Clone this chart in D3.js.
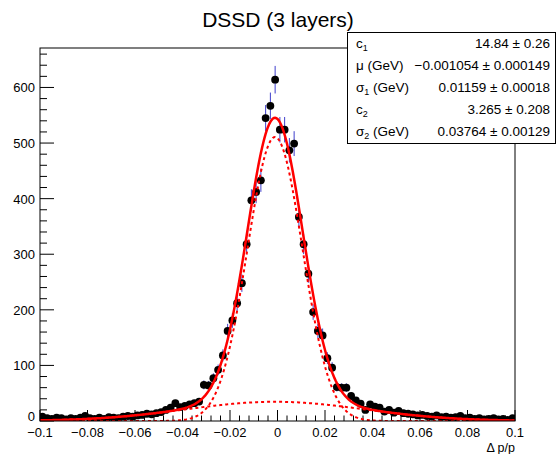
<!DOCTYPE html>
<html><head><meta charset="utf-8">
<script src="https://cdn.jsdelivr.net/npm/d3@7"></script>
<style>body{margin:0;background:#fff}text{font-family:"Liberation Sans",Arial,sans-serif}</style>
</head><body><svg id="c" width="558" height="454"></svg>
<script>
// ---- data ----
const binLow = -0.1, binWidth = 0.002;
const counts = [8,5,4,6,5,3,5,4,6,9, 5,4,6,4,7,6,5,8,9,8,
  10,11,13,12,14,16,20,24,32,25, 27,30,32,35,65,64,77,92,118,162,
  181,212,248,318,397,412,433,545,567,614, 524,524,487,499,367,318,265,196,162,154,
  113,96,61,60,60,45,37,31,20,30, 26,24,17,20,15,18,14,13,12,10,
  11,9,8,10,7,8,6,7,9,5, 6,4,5,3,4,5,3,4,2,5];
const xTicks = [-0.1,-0.08,-0.06,-0.04,-0.02,0,0.02,0.04,0.06,0.08,0.1];
const xTickLabels = ["\u22120.1","\u22120.08","\u22120.06","\u22120.04","\u22120.02","0","0.02","0.04","0.06","0.08","0.1"];
const yTicks = [0,100,200,300,400,500,600];
const statNames = [["c","1",""],["\u03bc (GeV)","",""],["\u03c3","1"," (GeV)"],["c","2",""],["\u03c3","2"," (GeV)"]];
const statValues = ["14.84 \u00b1 0.26","\u22120.001054 \u00b1 0.000149","0.01159 \u00b1 0.00018","3.265 \u00b1 0.208","0.03764 \u00b1 0.00129"];
const fitPar = {c1:14.84, mu:-0.001054, s1:0.01159, c2:3.265, s2:0.03764};

// ---- chart ----
const svg = d3.select("#c");
const L=40,R=515,T=48,B=421;
const x = d3.scaleLinear().domain([-0.1,0.1]).range([L,R]);
const y = d3.scaleLinear().domain([0,671]).range([B,T]);
svg.append("rect").attr("width",558).attr("height",454).attr("fill","#fff");
svg.append("defs").append("clipPath").attr("id","clip").append("rect")
  .attr("x",L).attr("y",T).attr("width",R-L).attr("height",B-T);

// ticks
const g = svg.append("g").attr("stroke","#000").attr("stroke-width",1);
d3.range(-0.1,0.1001,0.004).forEach(v=>{
  const major = Math.abs(Math.round(v/0.02)*0.02 - v) < 1e-6;
  g.append("line").attr("x1",x(v)).attr("x2",x(v)).attr("y1",B).attr("y2",B-(major?11:5.5));
});
d3.range(0,671,20).forEach(v=>{
  const major = v%100===0;
  g.append("line").attr("x1",L).attr("x2",L+(major?14:7)).attr("y1",y(v)).attr("y2",y(v));
});
xTicks.forEach((v,i)=>svg.append("text").attr("x",x(v)).attr("y",437).attr("text-anchor","middle")
  .attr("font-size",13).text(xTickLabels[i]));
yTicks.forEach(v=>svg.append("text").attr("x",35).attr("y",y(v)+(v===0?0:5)).attr("text-anchor","end")
  .attr("font-size",13).text(v));
svg.append("text").attr("x",515).attr("y",452).attr("text-anchor","end").attr("font-size",12.5).text("\u0394 p/p");
svg.append("text").attr("x",278).attr("y",27).attr("text-anchor","middle").attr("font-size",21).text("DSSD (3 layers)");

// data
const pts = counts.map((c,i)=>({x:binLow+(i+0.5)*binWidth, v:c}));
const plot = svg.append("g").attr("clip-path","url(#clip)");
const eb = plot.append("g").attr("stroke","#3f3fcc").attr("stroke-width",1);
pts.forEach(p=>{
  const e=Math.sqrt(p.v);
  eb.append("line").attr("x1",x(p.x)).attr("x2",x(p.x)).attr("y1",y(p.v-e)).attr("y2",y(p.v+e));
  eb.append("line").attr("x1",x(p.x-binWidth/2)).attr("x2",x(p.x+binWidth/2)).attr("y1",y(p.v)).attr("y2",y(p.v));
});
plot.append("g").selectAll("circle").data(pts).join("circle")
  .attr("cx",d=>x(d.x)).attr("cy",d=>y(d.v)).attr("r",3.9).attr("fill","#000");

// fit curves from fit parameters
const gauss=(xx,c,s)=>c/(Math.sqrt(2*Math.PI)*s)*Math.exp(-Math.pow(xx-fitPar.mu,2)/(2*s*s));
const xs = d3.range(-0.1,0.10001,0.0005);
const line = d3.line().x(d=>x(d[0])).y(d=>y(d[1]));
plot.append("path").attr("d",line(xs.map(v=>[v,gauss(v,fitPar.c1,fitPar.s1)])))
  .attr("fill","none").attr("stroke","#f00").attr("stroke-width",2).attr("stroke-dasharray","3,3");
plot.append("path").attr("d",line(xs.map(v=>[v,gauss(v,fitPar.c2,fitPar.s2)])))
  .attr("fill","none").attr("stroke","#f00").attr("stroke-width",2).attr("stroke-dasharray","3,3");
plot.append("path").attr("d",line(xs.map(v=>[v,gauss(v,fitPar.c1,fitPar.s1)+gauss(v,fitPar.c2,fitPar.s2)])))
  .attr("fill","none").attr("stroke","#f00").attr("stroke-width",2.5);

// frame
svg.append("rect").attr("x",L).attr("y",T).attr("width",R-L).attr("height",B-T)
  .attr("fill","none").attr("stroke","#000").attr("stroke-width",1);

// stats box
svg.append("rect").attr("x",347.5).attr("y",32.5).attr("width",208).attr("height",111)
  .attr("fill","#fff").attr("stroke","#000").attr("stroke-width",1);
const rowY=[48,70,92,114,136];
statNames.forEach((n,i)=>{
  const t=svg.append("text").attr("x",356).attr("y",rowY[i]).attr("font-size",13.5);
  t.append("tspan").text(n[0]);
  if(n[1]) t.append("tspan").attr("font-size",9).attr("dy",3).text(n[1]);
  if(n[2]) t.append("tspan").attr("dy",-3).text(n[2]);
  svg.append("text").attr("x",550).attr("y",rowY[i]).attr("text-anchor","end").attr("font-size",13.5).text(statValues[i]);
});
</script></body></html>
